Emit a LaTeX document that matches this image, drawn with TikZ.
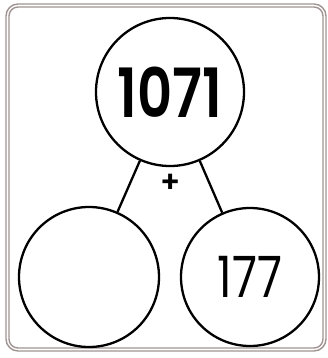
\documentclass[tikz,border=0pt]{standalone}
\usepackage{fontspec}
\setmainfont{Poppins}
\newfontfamily\semifont{Poppins SemiBold}
\usetikzlibrary{positioning}
\definecolor{framegray}{RGB}{160,148,146}
\tikzset{
  bubble/.style={circle, draw, line width=2.3pt, inner sep=0pt},
  part/.style={line width=2.3pt},
}
\begin{document}
\begin{tikzpicture}[x=1pt,y=-1pt]
  \useasboundingbox (0,0) rectangle (327,358);

  % Rahmen
  \draw[framegray, line width=1.4pt, rounded corners=12pt] (6,4) rectangle (326,351);
  \draw[framegray, line width=1.4pt, rounded corners=9pt] (9,7) rectangle (323,348);

  % Kreise
  \node[bubble, minimum size=148pt] (whole) at (170,92) {\scalebox{0.8}[1]{\fontsize{68}{68}\selectfont\semifont 1071}};
  \node[bubble, minimum size=140pt] (left) at (89,277) {};
  \node[bubble, minimum size=138pt] (right) at (250,277) {\scalebox{0.8}[1]{\fontsize{57}{57}\selectfont 177}};

  % Verbindungen
  \draw[part] (whole) -- (left);
  \draw[part] (whole) -- (right);

  \node (plus) at (171,183) {\fontsize{30}{30}\selectfont\semifont +};

\end{tikzpicture}
\end{document}
